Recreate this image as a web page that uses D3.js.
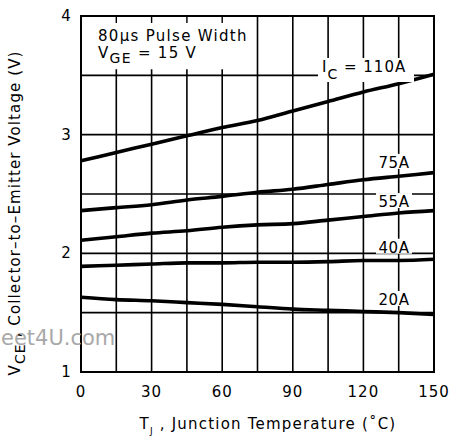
<!DOCTYPE html>
<html>
<head>
<meta charset="utf-8">
<script src="https://cdn.jsdelivr.net/npm/d3@7"></script>
<style>
  body { margin: 0; background: #fff; }
  svg text { font-family: "DejaVu Sans", sans-serif; fill: #000; }
</style>
</head>
<body>
<div id="chart"></div>
<script>
// junction temperature (C)
const temps = [0, 15, 30, 45, 60, 75, 90, 105, 120, 135, 150];
// V_CE per collector current
const vce110 = [2.78, 2.85, 2.92, 2.99, 3.06, 3.12, 3.20, 3.28, 3.36, 3.43, 3.51];
const vce75 = [2.36, 2.385, 2.41, 2.45, 2.48, 2.515, 2.54, 2.58, 2.62, 2.65, 2.68];
const vce55 = [2.11, 2.14, 2.17, 2.19, 2.22, 2.24, 2.25, 2.28, 2.31, 2.34, 2.36];
const vce40 = [1.89, 1.90, 1.91, 1.92, 1.92, 1.925, 1.925, 1.93, 1.94, 1.94, 1.95];
const vce20 = [1.63, 1.61, 1.60, 1.585, 1.57, 1.55, 1.53, 1.52, 1.51, 1.50, 1.485];
const xTicks = [0, 30, 60, 90, 120, 150];
const yTicks = [1, 2, 3, 4];
const xGrid = [15, 30, 45, 60, 75, 90, 105, 120, 135];
const yGrid = [1.5, 2, 2.5, 3, 3.5];

const W = 452, H = 436;
const m = {left: 81, top: 16, right: 18, bottom: 64};

const svg = d3.select('#chart').append('svg')
  .attr('width', W)
  .attr('height', H);

const x = d3.scaleLinear().domain([0, 150]).range([m.left, W - m.right]);
const y = d3.scaleLinear().domain([1, 4]).range([H - m.bottom, m.top]);

const g = svg.append('g');

// horizontal grid
g.selectAll('.hg').data(yGrid).enter().append('line')
  .attr('x1', x(0)).attr('x2', x(150))
  .attr('y1', d => y(d)).attr('y2', d => y(d))
  .attr('stroke', '#000').attr('stroke-width', 1.6);

// vertical grid (left ones stop under the condition box)
g.selectAll('.vg').data(xGrid).enter().append('line')
  .attr('x1', d => x(d)).attr('x2', d => x(d))
  .attr('y1', y(1))
  .attr('y2', d => d < 75 ? y(3.5) - 6 : y(4))
  .attr('stroke', '#000').attr('stroke-width', 1.6);

// short ticks at top of box
g.selectAll('.tt').data(xGrid.filter(d => d < 75)).enter().append('line')
  .attr('x1', d => x(d)).attr('x2', d => x(d))
  .attr('y1', y(4)).attr('y2', y(4) + 7)
  .attr('stroke', '#000').attr('stroke-width', 1.4);

// watermark
svg.append('text')
  .attr('x', 1).attr('y', 345)
  .attr('font-size', 21)
  .style('fill', '#a8a8a8')
  .text('eet4U.com');

// frame
g.append('rect')
  .attr('x', x(0)).attr('y', y(4))
  .attr('width', x(150) - x(0)).attr('height', y(1) - y(4))
  .attr('fill', 'none').attr('stroke', '#000').attr('stroke-width', 2);

// curves
const series = [vce110, vce75, vce55, vce40, vce20];
const line = d3.line()
  .x((d, i) => x(temps[i]))
  .y(d => y(d))
  .curve(d3.curveMonotoneX);

g.selectAll('.curve').data(series).enter().append('path')
  .attr('d', d => line(d))
  .attr('fill', 'none')
  .attr('stroke', '#000')
  .attr('stroke-width', 3.6);

// curve labels with white backing
const labels = [
  {t: '75A', v: 2.72},
  {t: '55A', v: 2.39},
  {t: '40A', v: 2.005},
  {t: '20A', v: 1.565}
];
labels.forEach(l => {
  const ty = y(l.v);
  g.append('rect')
    .attr('x', 376).attr('y', ty - 14)
    .attr('width', 36).attr('height', 15)
    .attr('fill', '#fff');
  g.append('text')
    .attr('x', 394).attr('y', ty)
    .attr('text-anchor', 'middle')
    .attr('font-size', 15)
    .attr('letter-spacing', 0.5)
    .text(l.t);
});

// I_C = 110A label
g.append('rect')
  .attr('x', 318).attr('y', 58)
  .attr('width', 96).attr('height', 24)
  .attr('fill', '#fff');
const ic = g.append('text').attr('x', 322).attr('y', 72)
  .attr('font-size', 15).attr('letter-spacing', 1);
ic.append('tspan').text('I');
ic.append('tspan').attr('dy', 7).attr('font-size', 14).text('C');
ic.append('tspan').attr('dy', -7).text(' = 110A');

// condition box
svg.append('text')
  .attr('x', 98).attr('y', 41)
  .attr('font-size', 15)
  .attr('letter-spacing', 1.3)
  .text('80\u00b5s Pulse Width');
const vge = svg.append('text').attr('x', 98).attr('y', 58)
  .attr('font-size', 15).attr('letter-spacing', 1.3);
vge.append('tspan').text('V');
vge.append('tspan').attr('dy', 5).attr('font-size', 14).text('GE');
vge.append('tspan').attr('dy', -5).text(' =  15 V');

// tick labels
svg.selectAll('.xt').data(xTicks).enter().append('text')
  .attr('x', d => x(d)).attr('y', 397)
  .attr('text-anchor', 'middle')
  .attr('font-size', 15)
  .attr('letter-spacing', 1)
  .text(d => d);

svg.selectAll('.yt').data(yTicks).enter().append('text')
  .attr('x', 66).attr('y', d => y(d) + 5)
  .attr('text-anchor', 'middle')
  .attr('font-size', 15)
  .text(d => d);

// axis titles
const xt = svg.append('text')
  .attr('x', 268).attr('y', 429)
  .attr('text-anchor', 'middle')
  .attr('font-size', 15)
  .attr('letter-spacing', 1.2);
xt.append('tspan').text('T');
xt.append('tspan').attr('dy', 5).attr('font-size', 9).text('J');
xt.append('tspan').attr('dy', -5).text(' , Junction Temperature (\u02daC)');

const yt = svg.append('text')
  .attr('transform', 'translate(20,213) rotate(-90)')
  .attr('text-anchor', 'middle')
  .attr('font-size', 15)
  .attr('letter-spacing', 1.1);
yt.append('tspan').text('V');
yt.append('tspan').attr('dy', 5).attr('font-size', 14).text('CE');
yt.append('tspan').attr('dy', -5).text(' ,  Collector\u2013to\u2013Emitter Voltage (V)');
</script>
</body>
</html>
